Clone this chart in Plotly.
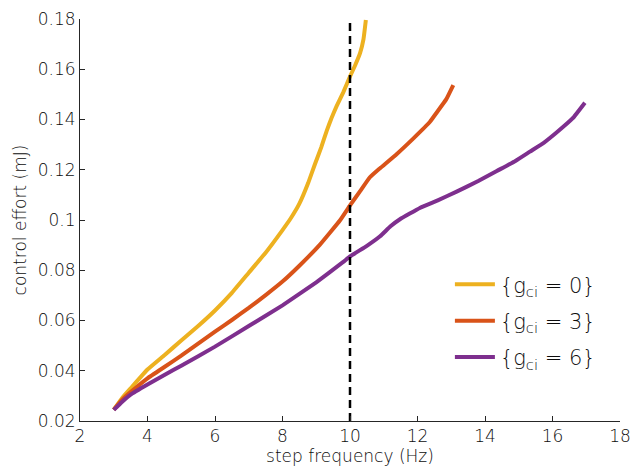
import plotly.graph_objects as go

# Data
x_g0 = [3.0, 3.25, 3.5, 4.0, 4.5, 5.0, 5.5, 6.0, 6.5, 7.0, 7.5, 8.0, 8.25, 8.5, 8.76, 8.96, 9.15, 9.31, 9.45, 9.6, 9.8, 9.98, 10.15, 10.3, 10.4, 10.47]
y_g0 = [0.0245, 0.0292, 0.033, 0.0405, 0.0462, 0.052, 0.0578, 0.064, 0.071, 0.079, 0.087, 0.096, 0.1008, 0.1065, 0.1147, 0.1222, 0.129, 0.1355, 0.1405, 0.1452, 0.1508, 0.1565, 0.1615, 0.1665, 0.172, 0.1796]

x_g3 = [3.0, 3.25, 3.5, 4.0, 4.5, 5.0, 5.5, 6.0, 6.5, 7.0, 7.5, 8.0, 8.5, 9.11, 9.7, 10.0, 10.3, 10.59, 10.89, 11.38, 11.88, 12.37, 12.57, 12.85, 13.06]
y_g3 = [0.0245, 0.0285, 0.0315, 0.037, 0.0415, 0.046, 0.0508, 0.0556, 0.0602, 0.065, 0.0701, 0.0755, 0.0818, 0.0902, 0.0998, 0.1058, 0.1115, 0.117, 0.1206, 0.1262, 0.1325, 0.1391, 0.1428, 0.148, 0.1537]

x_g6 = [3.0, 3.25, 3.5, 4.0, 4.5, 5.0, 6.0, 7.0, 8.0, 9.0, 9.79, 10.0, 10.5, 10.89, 11.2, 11.48, 12.07, 12.6, 13.16, 13.8, 14.35, 14.9, 15.33, 15.75, 16.12, 16.6, 16.96]
y_g6 = [0.0244, 0.0277, 0.0305, 0.0345, 0.0383, 0.042, 0.0496, 0.0578, 0.066, 0.0752, 0.0832, 0.0855, 0.0897, 0.0935, 0.0975, 0.1003, 0.1048, 0.1078, 0.1113, 0.1155, 0.1195, 0.1235, 0.1272, 0.1308, 0.1348, 0.1405, 0.1467]

series_names = ["{g<sub>ci</sub> = 0}", "{g<sub>ci</sub> = 3}", "{g<sub>ci</sub> = 6}"]
series_colors = ["#EDB120", "#D95319", "#7E2F8E"]

x_ticks = [2, 4, 6, 8, 10, 12, 14, 16, 18]
y_ticks = [0.02, 0.04, 0.06, 0.08, 0.1, 0.12, 0.14, 0.16, 0.18]
y_ticktext = ["0.02", "0.04", "0.06", "0.08", "0.1", "0.12", "0.14", "0.16", "0.18"]

vline_x = [10, 10]
vline_y = [0.02, 0.18]

fig = go.Figure()
for i, (xs, ys, name, col) in enumerate(zip([x_g0, x_g3, x_g6], [y_g0, y_g3, y_g6], series_names, series_colors)):
    fig.add_trace(go.Scatter(x=xs, y=ys, mode="lines", name=name, legendgroup=f"g{i}",
                             line=dict(color=col, width=4, shape="spline", smoothing=0.3)))

fig.add_trace(go.Scatter(x=vline_x, y=vline_y, mode="lines", showlegend=False,
                         line=dict(color="black", width=2.5, dash="8px,5px")))

font_family = "DejaVu Sans"
txt_col = "#0d0d0d"
line_col = "#262626"
fig.update_layout(
    width=630, height=469,
    margin=dict(l=80, r=10, t=19, b=48, autoexpand=False),
    paper_bgcolor="white", plot_bgcolor="white",
    font=dict(family=font_family, size=17, color=txt_col, weight=300),
    showlegend=True,
    legend=dict(x=0.685, y=0.39, xanchor="left", yanchor="top",
                bgcolor="rgba(0,0,0,0)", font=dict(size=21, weight=300),
                tracegroupgap=6, itemwidth=40),
    xaxis=dict(range=[2, 18], tickvals=x_ticks, ticks="inside", ticklen=5,
               tickcolor=line_col, showline=True, linecolor=line_col, linewidth=1,
               showgrid=False, zeroline=False, mirror=False, automargin=False,
               ticklabeloverflow="allow",
               tickfont=dict(size=17, weight=300),
               title=dict(text="step frequency (Hz)", font=dict(size=17, weight=300), standoff=2)),
    yaxis=dict(range=[0.02, 0.18], tickvals=y_ticks, ticktext=y_ticktext, ticks="inside", ticklen=5,
               tickcolor=line_col, showline=True, linecolor=line_col, linewidth=1,
               showgrid=False, zeroline=False, mirror=False, automargin=False,
               ticklabeloverflow="allow",
               tickfont=dict(size=17, weight=300),
               title=dict(text="control effort (mJ)", font=dict(size=17, weight=300), standoff=6)),
)

fig.write_html(
    "out.html",
    config={"displayModeBar": False},
    post_script="document.body.style.margin='0';document.body.style.overflow='hidden';",
)
